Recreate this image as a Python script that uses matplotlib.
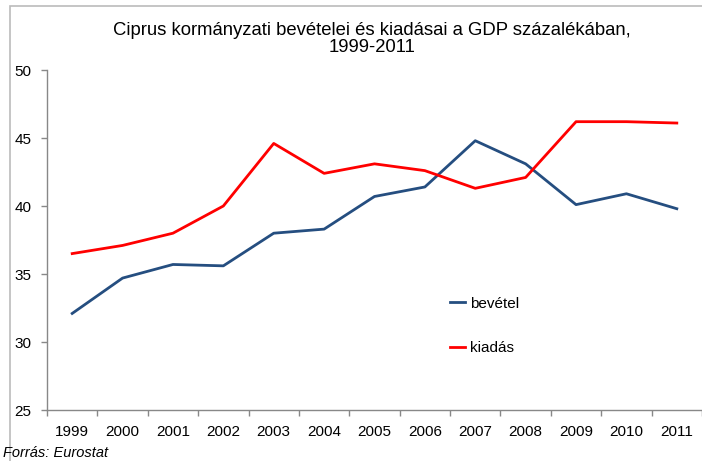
import matplotlib
matplotlib.use("Agg")
import matplotlib.pyplot as plt
from matplotlib.patches import Rectangle

plt.rcParams['font.family'] = ['Liberation Sans', 'DejaVu Sans']

years = ['1999', '2000', '2001', '2002', '2003', '2004', '2005', '2006',
         '2007', '2008', '2009', '2010', '2011']
bevetel = [32.1, 34.7, 35.7, 35.6, 38.0, 38.3, 40.7, 41.4, 44.8, 43.1, 40.1, 40.9, 39.8]
kiadas = [36.5, 37.1, 38.0, 40.0, 44.6, 42.4, 43.1, 42.6, 41.3, 42.1, 46.2, 46.2, 46.1]
yticks = [25, 30, 35, 40, 45, 50]

fig = plt.figure(figsize=(7.02, 4.61), dpi=100)
ax = fig.add_axes([47/702, 1 - 410/461, (702 - 47)/702, (410 - 70)/461])

x = list(range(len(years)))
ax.plot(x, bevetel, color='#254e80', lw=2.0, label='bevétel')
ax.plot(x, kiadas, color='#ff0000', lw=2.0, label='kiadás')

ax.set_xlim(-0.5, len(years) - 0.5)
ax.set_ylim(25, 50)
ax.set_yticks(yticks)
ax.set_yticklabels([str(v) for v in yticks], fontsize=11)
ax.set_xticks(x)
ax.set_xticklabels(years, fontsize=11)
ax.set_xticks([i - 0.5 for i in range(len(years) + 1)], minor=True)
ax.tick_params(axis='x', which='major', length=0, pad=11)
ax.tick_params(axis='x', which='minor', length=4, color='#888888', width=1)
ax.tick_params(axis='y', length=4, color='#888888', width=1, pad=7)

for s in ['top', 'right']:
    ax.spines[s].set_visible(False)
for s in ['left', 'bottom']:
    ax.spines[s].set_color('#888888')
    ax.spines[s].set_linewidth(1)

fig.text(0.53, 1 - 39/461, 'Ciprus kormányzati bevételei és kiadásai a GDP százalékában,\n1999-2011',
         ha='center', va='center', fontsize=13.3, linespacing=1.05)

leg = ax.legend(loc='upper left', bbox_to_anchor=(436/702, 1 - 283/461), bbox_transform=fig.transFigure,
                frameon=False, fontsize=11, handlelength=1.0, handletextpad=0.3,
                labelspacing=2.0)

fig.text(3/702, 1 - 453/461, 'Forrás: Eurostat', fontsize=10.5, style='italic', va='center')

fig.patches.append(Rectangle((10/702, -0.1), 2, 1.1 - 6/461, transform=fig.transFigure,
                             fill=False, edgecolor='#bbbbbb', lw=1.2))

fig.savefig('out.png', dpi=100)
